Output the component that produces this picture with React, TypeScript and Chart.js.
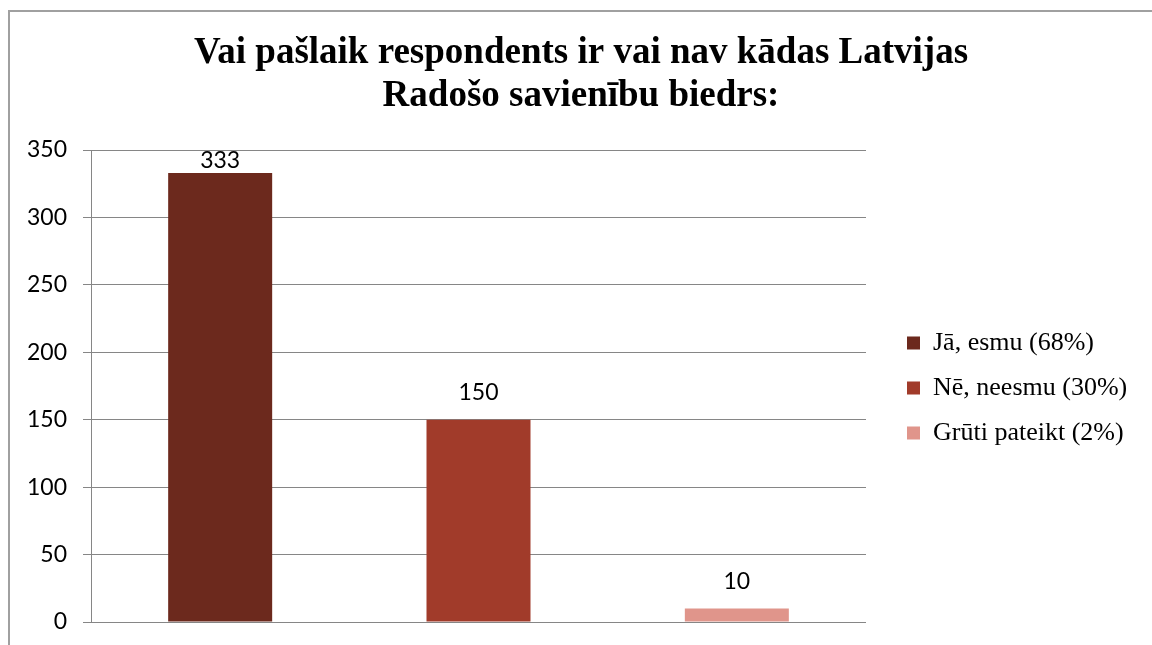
import { useEffect, useRef } from "react";
import { Chart, registerables } from "chart.js";

Chart.register(...registerables);

const titleLines = ["Vai pašlaik respondents ir vai nav kādas Latvijas", "Radošo savienību biedrs:"];
const categories = ["Jā, esmu (68%)", "Nē, neesmu (30%)", "Grūti pateikt (2%)"];
const values = [333, 150, 10];
const barColors = ["#6C291D", "#A13B2A", "#E0958B"];
const yMin = 0;
const yMax = 350;
const yStep = 50;

const SERIF = '"Liberation Serif", "Times New Roman", serif';
const SANS = 'Lato, "Open Sans", sans-serif';
const LEGEND_FONT = 26;
const LEGEND_PAD = 19;
const LEGEND_BOX = 13;

const valueLabels = {
  id: "valueLabels",
  afterDatasetsDraw(chart: any) {
    const { ctx, chartArea } = chart;
    const meta = chart.getDatasetMeta(0);
    ctx.save();
    ctx.font = `23px ${SANS}`;
    ctx.fillStyle = "#000";
    ctx.textAlign = "center";
    ctx.textBaseline = "middle";
    meta.data.forEach((el: any, i: number) => {
      const y = Math.max(el.y - 27, chartArea.top + 11);
      ctx.fillText(String(values[i]), el.x, y);
    });
    ctx.restore();
  },
};

export default function App() {
  const ref = useRef<HTMLCanvasElement>(null);

  useEffect(() => {
    document.documentElement.style.overflow = "hidden";
    document.body.style.overflow = "hidden";
    const canvas = ref.current!;
    const mctx = canvas.getContext("2d")!;
    mctx.font = `${LEGEND_FONT}px ${SERIF}`;
    const textW = Math.max(...categories.map((c) => mctx.measureText(c).width));
    const legendLeft = 907 - LEGEND_PAD;
    const legendW = LEGEND_PAD + LEGEND_BOX + LEGEND_FONT / 2 + textW + 10;
    const padR = Math.max(0, 1152 - legendLeft - legendW);
    const padL = padR + 10;

    const chart = new Chart(canvas, {
      type: "bar",
      data: {
        labels: categories,
        datasets: [
          {
            data: values,
            backgroundColor: barColors,
            borderWidth: 0,
            categoryPercentage: 1,
            barPercentage: 0.4026,
          },
        ],
      },
      options: {
        responsive: false,
        animation: false,
        layout: { padding: { left: padL, right: padR, top: 0, bottom: 23 } },
        plugins: {
          tooltip: { enabled: false },
          title: {
            display: true,
            text: titleLines,
            color: "#000",
            font: { family: SERIF, size: 37, weight: "bold", lineHeight: "43px" },
            padding: { top: 32, bottom: 32 },
          },
          legend: {
            display: true,
            position: "right",
            align: "start",
            maxWidth: 600,
            title: {
              display: true,
              text: " ",
              color: "rgba(0,0,0,0)",
              font: { size: 10, lineHeight: "10px" },
              padding: { top: 301, bottom: 0 },
            },
            labels: {
              boxWidth: LEGEND_BOX,
              boxHeight: LEGEND_BOX,
              padding: LEGEND_PAD,
              color: "#000",
              font: { family: SERIF, size: LEGEND_FONT },
              generateLabels: () =>
                categories.map((c, i) => ({
                  text: c,
                  fillStyle: barColors[i],
                  strokeStyle: barColors[i],
                  lineWidth: 0,
                  hidden: false,
                  index: i,
                  fontColor: "#000",
                })),
            },
          },
        },
        scales: {
          x: {
            type: "category",
            display: false,
            offset: true,
            grid: { display: false },
          },
          y: {
            min: yMin,
            max: yMax,
            ticks: {
              stepSize: yStep,
              color: "#000",
              font: { family: SANS, size: 23 },
              padding: 16,
            },
            grid: { color: "#868686", lineWidth: 1, tickLength: 8, drawTicks: true },
            border: { color: "#868686", width: 1 },
            afterFit: (s: any) => {
              s.width = 91 - padL;
              s.paddingTop = 0;
              s.paddingBottom = 0;
            },
          },
          gap: {
            type: "linear",
            position: "right",
            display: true,
            ticks: { display: false },
            grid: { display: false, drawTicks: false },
            border: { display: false },
            afterFit: (s: any) => {
              s.width = legendLeft - 866;
            },
          },
        },
      },
      plugins: [valueLabels],
    } as any);

    return () => chart.destroy();
  }, []);

  return (
    <>
      <div
        style={{
          position: "fixed",
          left: 8,
          top: 10,
          width: 1300,
          height: 800,
          border: "2px solid #a0a0a0",
          boxSizing: "border-box",
        }}
      />
      <canvas
        ref={ref}
        width={1152}
        height={645}
        style={{ position: "fixed", left: 0, top: 0, width: 1152, height: 645 }}
      />
    </>
  );
}
